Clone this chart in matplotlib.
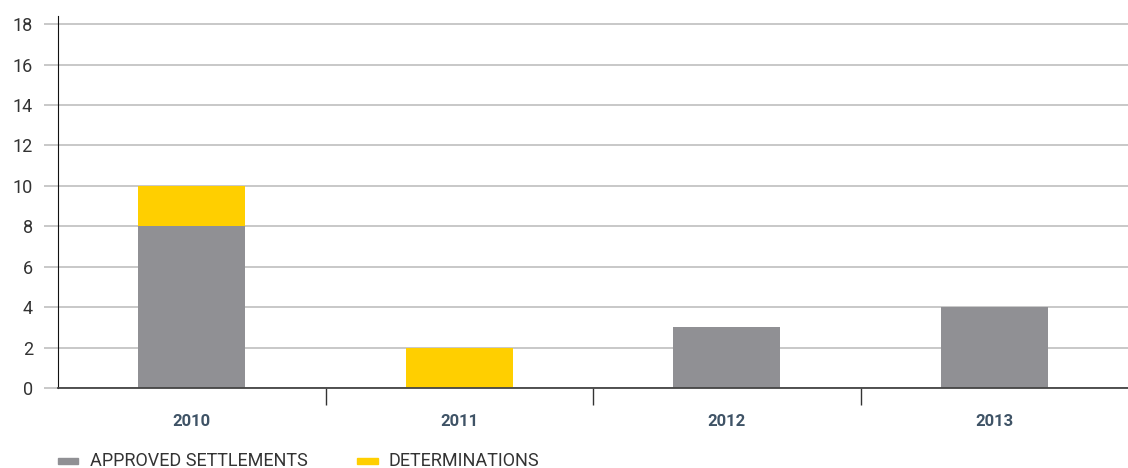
import numpy as np
import matplotlib.pyplot as plt
from matplotlib.patches import Rectangle

plt.rcParams['font.family'] = ['Roboto', 'DejaVu Sans']

years = ['2010', '2011', '2012', '2013']
approved = [8, 0, 3, 4]
determinations = [2, 2, 0, 0]

grey = '#909094'
yellow = '#ffcf00'

fig = plt.figure(figsize=(11.28, 4.68), dpi=100)
ax = fig.add_axes([58/1128, 80/468, 1 - 58/1128, (388-16)/468])

x = np.arange(len(years))
ax.bar(x, approved, width=0.4, color=grey, zorder=2)
ax.bar(x, determinations, width=0.4, bottom=approved, color=yellow, zorder=2)

ax.set_xlim(-0.5, len(years) - 0.5)
ax.set_ylim(0, 18.4)
ax.set_yticks(range(0, 19, 2))
ax.yaxis.grid(True, color='#c4c4c4', linewidth=1.3, zorder=0)
ax.tick_params(axis='y', length=10, width=1.3, color='#c4c4c4',
               labelsize=13, labelcolor='#333333', pad=8)

# year labels centred, separators between categories
ax.set_xticks(x)
ax.set_xticklabels(years, fontsize=12, fontweight='bold', color='#3f5366')
ax.set_xticks(x[:-1] + 0.5, minor=True)
ax.tick_params(axis='x', which='major', length=0, pad=19)
ax.tick_params(axis='x', which='minor', length=12, width=1, color='#333333')

for side in ['top', 'right']:
    ax.spines[side].set_visible(False)
ax.spines['left'].set_color('#111111')
ax.spines['bottom'].set_color('#444444')
ax.spines['bottom'].set_linewidth(1.3)
ax.set_axisbelow(True)

# legend along the bottom
fig.patches.append(Rectangle((58/1128, 4/468), 20/1128, 6/468,
                             transform=fig.transFigure, color=grey))
fig.text(90/1128, 7/468, 'APPROVED SETTLEMENTS', fontsize=13,
         color='#333333', va='center')
fig.patches.append(Rectangle((357/1128, 4/468), 21/1128, 6/468,
                             transform=fig.transFigure, color=yellow))
fig.text(389/1128, 7/468, 'DETERMINATIONS', fontsize=13,
         color='#333333', va='center')

fig.savefig('out.png', dpi=100)
